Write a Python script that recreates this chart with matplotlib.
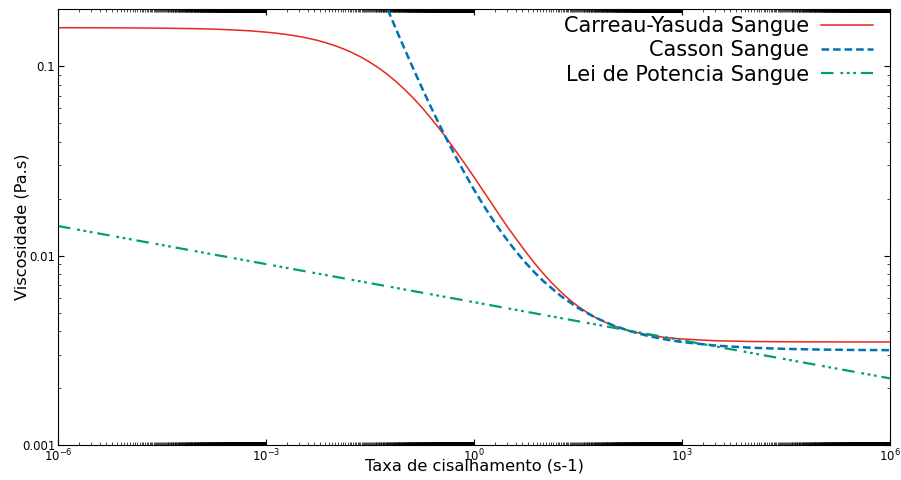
import numpy as np
import matplotlib
matplotlib.use("Agg")
import matplotlib.pyplot as plt
from matplotlib.ticker import FixedLocator, NullFormatter

# ---------------------------------------------
# Viscosity curves (Pa.s) vs shear rate (s-1)
# ---------------------------------------------
# exponents of the shear-rate sample points
logg_cy = [-6, -5.5, -5, -4.5, -4, -3.75, -3.5, -3.25, -3, -2.875, -2.75, -2.625,
           -2.5, -2.375, -2.25, -2.125, -2, -1.875, -1.75, -1.625, -1.5, -1.375,
           -1.25, -1.125, -1, -0.875, -0.75, -0.625, -0.5, -0.375, -0.25, -0.125,
           0, 0.125, 0.25, 0.375, 0.5, 0.625, 0.75, 0.875, 1, 1.125, 1.25, 1.375,
           1.5, 1.625, 1.75, 1.875, 2, 2.125, 2.25, 2.5, 2.75, 3, 3.5, 4, 4.5,
           5, 5.5, 6]
mu_cy = [0.1599, 0.1598, 0.1595, 0.1590, 0.1580, 0.1571, 0.1558, 0.1541, 0.1515,
         0.1499, 0.1480, 0.1458, 0.1432, 0.1402, 0.1368, 0.1328, 0.1283, 0.1233,
         0.1177, 0.1116, 0.1050, 0.0980, 0.0907, 0.0831, 0.0754, 0.0679, 0.0605,
         0.0534, 0.0468, 0.0407, 0.0352, 0.0303, 0.0260, 0.0222, 0.0190, 0.0162,
         0.0139, 0.01202, 0.01043, 0.00911, 0.00804, 0.00716, 0.00645, 0.00587,
         0.00540, 0.00503, 0.00472, 0.00448, 0.00428, 0.00413, 0.00400, 0.00382,
         0.00370, 0.00363, 0.00355, 0.003521, 0.003509, 0.003503, 0.003501, 0.003500]

logg_casson = [-1.5, -1.375, -1.25, -1.125, -1, -0.875, -0.75, -0.625, -0.5,
               -0.375, -0.25, -0.125, 0, 0.125, 0.25, 0.375, 0.5, 0.625, 0.75,
               0.875, 1, 1.25, 1.5, 1.75, 2, 2.25, 2.5, 2.75, 3, 3.5, 4, 4.5,
               5, 5.5, 6]
mu_casson = [0.337, 0.2602, 0.2019, 0.15725, 0.1231, 0.09698, 0.07684, 0.06130,
             0.04925, 0.03989, 0.03258, 0.02684, 0.02232, 0.018744, 0.01590,
             0.013624, 0.011796, 0.010320, 0.009121, 0.008142, 0.007340,
             0.006131, 0.005296, 0.004710, 0.004293, 0.003993, 0.003775,
             0.003616, 0.003498, 0.003347, 0.003264, 0.003218, 0.003192,
             0.003177, 0.003169]

logg_pl = [-6, -3, 0, 3, 6]
mu_pl = [0.01434, 0.009024, 0.005680, 0.003573, 0.002249]

labels = ["Carreau-Yasuda Sangue", "Casson Sangue", "Lei de Potencia Sangue"]

# ---------------------------------------------
# Plot
# ---------------------------------------------
plt.rcParams["lines.scale_dashes"] = False
plt.rcParams["xtick.direction"] = "in"
plt.rcParams["ytick.direction"] = "in"

fig = plt.figure(figsize=(9.01, 4.8), dpi=100)
ax = fig.add_axes([0.0644, 0.0729, 0.9234, 0.9077])

ax.plot(10.0 ** np.array(logg_cy), mu_cy, color="#e8261e", linewidth=1.1,
        label=labels[0])
ax.plot(10.0 ** np.array(logg_casson), mu_casson, color="#0072b2", linewidth=1.8,
        dashes=(5.5, 2.8), label=labels[1])
ax.plot(10.0 ** np.array(logg_pl), mu_pl, color="#009e73", linewidth=1.6,
        dashes=(9, 5, 2, 2.6, 2, 2.6, 2, 3.5), label=labels[2])

ax.set_xscale("log")
ax.set_yscale("log")
ax.set_xlim(1e-6, 1e6)
ax.set_ylim(0.001, 0.2)

# major ticks every three decades, minor ticks k*1000^m
ax.xaxis.set_major_locator(FixedLocator([1e-6, 1e-3, 1.0, 1e3, 1e6]))
minors = np.concatenate([np.arange(2, 1000) * 1000.0 ** m for m in (-2, -1, 0, 1)])
ax.xaxis.set_minor_locator(FixedLocator(minors))
ax.xaxis.set_minor_formatter(NullFormatter())

ax.set_yticks([0.001, 0.01, 0.1])
ax.set_yticklabels(["0.001", "0.01", "0.1"])

ax.tick_params(which="both", top=True, right=True, labelsize=8.5, pad=2)
ax.tick_params(which="major", length=4, width=0.8)
ax.tick_params(which="minor", length=2.5, width=0.5)

ax.set_xlabel("Taxa de cisalhamento (s-1)", fontsize=11.7)
ax.set_ylabel("Viscosidade (Pa.s)", fontsize=11.7)
ax.xaxis.set_label_coords(0.5, -0.032)
ax.yaxis.set_label_coords(-0.034, 0.5)

ax.legend(loc="upper right", frameon=False, markerfirst=False, fontsize=15,
          handlelength=2.5, handletextpad=0.6, labelspacing=0.2,
          borderpad=0, borderaxespad=0, bbox_to_anchor=(0.98, 0.984))

plt.savefig("out.png", dpi=100)
